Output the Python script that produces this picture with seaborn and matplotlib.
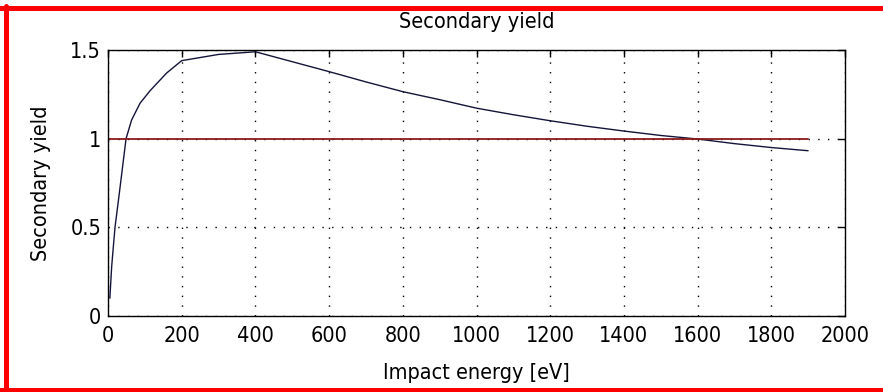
import matplotlib
matplotlib.use("Agg")
import matplotlib.pyplot as plt
import seaborn as sns
import pandas as pd
from matplotlib.lines import Line2D
from matplotlib import font_manager as fm

energy = [5, 10, 19, 30, 49, 64, 87, 114, 159, 200, 300, 400, 500, 600, 700,
          800, 900, 1000, 1100, 1200, 1300, 1400, 1500, 1600, 1700, 1800, 1900]
yield_vals = [0.10, 0.28, 0.50, 0.68, 1.00, 1.105, 1.20, 1.27, 1.37, 1.44, 1.475,
              1.49, 1.434, 1.378, 1.32, 1.265, 1.22, 1.172, 1.135, 1.101, 1.07,
              1.043, 1.018, 0.998, 0.972, 0.95, 0.932]
threshold_energy = [0, 1900]
threshold_yield = [1, 1]
xticks = [0, 200, 400, 600, 800, 1000, 1200, 1400, 1600, 1800, 2000]
yticks = [0, 0.5, 1, 1.5]
ytick_labels = ["0", "0.5", "1", "1.5"]

sns.set_style("white")
plt.rcParams['font.family'] = ['DejaVu Sans']
plt.rcParams['text.color'] = 'black'
plt.rcParams['axes.labelcolor'] = 'black'

# prefer a condensed face if one is installed
narrow = None
for f in fm.fontManager.ttflist:
    if f.name in ("Liberation Sans Narrow", "DejaVu Sans Condensed") or \
       (f.name == "DejaVu Sans" and "Condensed" in f.fname and "Bold" not in f.fname and "Oblique" not in f.fname):
        narrow = f.fname
        break
if narrow:
    fp = fm.FontProperties(fname=narrow, size=15.5)
else:
    fp = fm.FontProperties(family="DejaVu Sans", size=13.5)

fig = plt.figure(figsize=(8.83, 3.92), dpi=100)
ax = fig.add_axes([108/883, 1 - 316/392, (845-108)/883, (316-50)/392])

df = pd.DataFrame({"energy": energy, "yield": yield_vals})
df_t = pd.DataFrame({"energy": threshold_energy, "yield": threshold_yield})

ax.grid(True, color="black", linestyle=(0, (1, 6)), linewidth=1.0)
ax.set_axisbelow(True)
sns.lineplot(data=df, x="energy", y="yield", ax=ax, color="#14143a", linewidth=1.0)
sns.lineplot(data=df_t, x="energy", y="yield", ax=ax, color="#8b1a1a", linewidth=1.3)

ax.set_xlim(0, 2000)
ax.set_ylim(0, 1.5)
ax.set_xticks(xticks)
ax.set_xticklabels([str(t) for t in xticks], fontproperties=fp)
ax.set_yticks(yticks)
ax.set_yticklabels(ytick_labels, fontproperties=fp)
ax.tick_params(axis="x", direction="in", length=5, width=1, top=True,
               colors="black", pad=7.5)
ax.tick_params(axis="y", direction="in", length=5, width=1, right=True,
               colors="black", pad=5)
for s in ax.spines.values():
    s.set_visible(True)
    s.set_color("black")
    s.set_linewidth(1.0)

ax.set_title("Secondary yield", fontproperties=fp, pad=16, color="black")
ax.set_xlabel("Impact energy [eV]", fontproperties=fp, labelpad=12, color="black")
ax.set_ylabel("Secondary yield", fontproperties=fp, labelpad=14, color="black")

# red frame (left, top, bottom)
fig.add_artist(Line2D([6/883, 6/883], [0, 1 - 6/392], transform=fig.transFigure, color="red", linewidth=3.6))
fig.add_artist(Line2D([0, 1], [1 - 8/392, 1 - 8/392], transform=fig.transFigure, color="red", linewidth=3.6))
fig.add_artist(Line2D([0, 1], [2/392, 2/392], transform=fig.transFigure, color="red", linewidth=3.6))

fig.savefig("out.png", dpi=100)
